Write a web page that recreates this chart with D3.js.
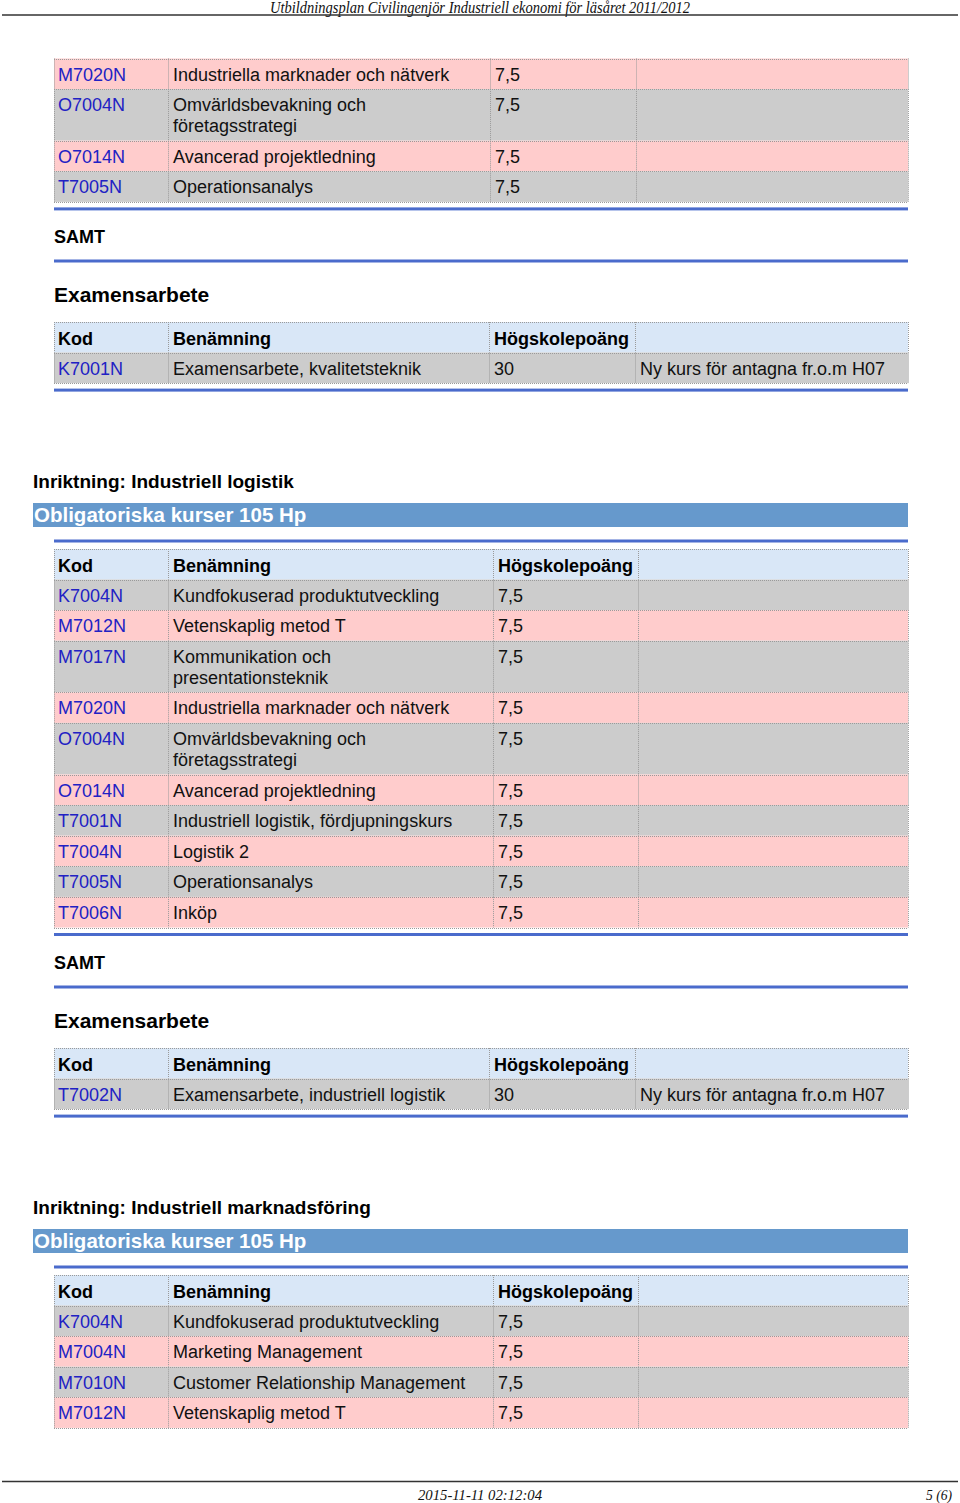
<!DOCTYPE html>
<html lang="sv">
<head>
<meta charset="UTF-8">
<title>Utbildningsplan - sida 5</title>
<style>
  body { margin: 0; background: #fff; }
  svg { display: block; }
  .cell-text { font-family: 'Liberation Sans', Arial, Helvetica, sans-serif; font-size: 18px; fill: #111; }
  .code { fill: #2121c4; }
  .head { font-weight: bold; fill: #000; }
  .title { font-family: 'Liberation Sans', Arial, Helvetica, sans-serif; font-weight: bold; }
  .grid { stroke: #9a9a9a; stroke-width: 1; stroke-dasharray: 1,1; fill: none; }
</style>
</head>
<body>
<script src="https://d3js.org/d3.v7.min.js"></script>
<script>
// ---- data ----
const pageTitle = "Utbildningsplan Civilingenjör Industriell ekonomi för läsåret 2011/2012";
const footerDate = "2015-11-11 02:12:04";
const footerPage = "5 (6)";
const headerLabels = ["Kod", "Benämning", "Högskolepoäng", ""];

// fortsättning från föregående sida
const contCodes = ["M7020N", "O7004N", "O7014N", "T7005N"];
const contNames = ["Industriella marknader och nätverk", "Omvärldsbevakning och\nföretagsstrategi", "Avancerad projektledning", "Operationsanalys"];
const contPoints = ["7,5", "7,5", "7,5", "7,5"];

const exam1Codes = ["K7001N"];
const exam1Names = ["Examensarbete, kvalitetsteknik"];
const exam1Points = ["30"];
const exam1Notes = ["Ny kurs för antagna fr.o.m H07"];

const logTitle = "Inriktning: Industriell logistik";
const logCodes = ["K7004N", "M7012N", "M7017N", "M7020N", "O7004N", "O7014N", "T7001N", "T7004N", "T7005N", "T7006N"];
const logNames = ["Kundfokuserad produktutveckling", "Vetenskaplig metod T", "Kommunikation och\npresentationsteknik",
  "Industriella marknader och nätverk", "Omvärldsbevakning och\nföretagsstrategi", "Avancerad projektledning",
  "Industriell logistik, fördjupningskurs", "Logistik 2", "Operationsanalys", "Inköp"];
const logPoints = ["7,5", "7,5", "7,5", "7,5", "7,5", "7,5", "7,5", "7,5", "7,5", "7,5"];

const exam2Codes = ["T7002N"];
const exam2Names = ["Examensarbete, industriell logistik"];
const exam2Points = ["30"];
const exam2Notes = ["Ny kurs för antagna fr.o.m H07"];

const markTitle = "Inriktning: Industriell marknadsföring";
const markCodes = ["K7004N", "M7004N", "M7010N", "M7012N"];
const markNames = ["Kundfokuserad produktutveckling", "Marketing Management", "Customer Relationship Management", "Vetenskaplig metod T"];
const markPoints = ["7,5", "7,5", "7,5", "7,5"];

const obligLabel = "Obligatoriska kurser 105 Hp";
const samtLabel = "SAMT";
const examLabel = "Examensarbete";

// ---- layout ----
const width = 960, height = 1503;
const SERIF = "'Liberation Serif', 'DejaVu Serif', serif";
const BLUE = "#4a6bcc";
const BAR = "#6699cc";
const fillScale = d3.scaleOrdinal().domain(["head", "gray", "pink"]).range(["#d9e7f7", "#cccccc", "#ffcccc"]);
const rowH = 30.6, lineH = 21, headH = 30.5;

const svg = d3.select("body").append("svg").attr("width", width).attr("height", height);

// sidhuvud (smal kursiv antikva)
svg.append("text").attr("x", 480).attr("y", 12.5).attr("text-anchor", "middle")
  .attr("font-family", SERIF).attr("font-style", "italic").attr("font-size", 16)
  .attr("textLength", 420).attr("lengthAdjust", "spacingAndGlyphs").attr("fill", "#111")
  .text(pageTitle);
svg.append("line").attr("x1", 2).attr("x2", 958).attr("y1", 15).attr("y2", 15)
  .attr("stroke", "#333").attr("stroke-width", 1.6);

// sidfot
svg.append("line").attr("x1", 2).attr("x2", 958).attr("y1", 1481.5).attr("y2", 1481.5)
  .attr("stroke", "#333").attr("stroke-width", 1.4);
svg.append("text").attr("x", 480).attr("y", 1500).attr("text-anchor", "middle")
  .attr("font-family", SERIF).attr("font-style", "italic").attr("font-size", 15)
  .attr("textLength", 124).attr("lengthAdjust", "spacingAndGlyphs").attr("fill", "#111")
  .text(footerDate);
svg.append("text").attr("x", 952).attr("y", 1500).attr("text-anchor", "end")
  .attr("font-family", SERIF).attr("font-style", "italic").attr("font-size", 15)
  .attr("textLength", 26).attr("lengthAdjust", "spacingAndGlyphs").attr("fill", "#111")
  .text(footerPage);

function blueRule(y) {
  svg.append("rect").attr("x", 54).attr("y", y - 1.5).attr("width", 854).attr("height", 3).attr("fill", BLUE);
}

function titleText(x, y, size, txt, color) {
  svg.append("text").attr("class", "title").attr("x", x).attr("y", y)
    .attr("font-size", size).style("fill", color || "#000").text(txt);
}

function obligBar(top) {
  svg.append("rect").attr("x", 33).attr("y", top).attr("width", 875).attr("height", 24).attr("fill", BAR);
  titleText(34, top + 19, 20.5, obligLabel, "#ffffff");
}

// tabell: rows = [[kod, namn, hp, not], ...]
function drawTable(top, cols, withHeader, rows, startFill) {
  const g = svg.append("g");
  const all = [];
  let y = top;
  if (withHeader) {
    all.push({ cells: headerLabels, y: y, h: headH, fill: "head", head: true });
    y += headH;
  }
  const alt = startFill === "gray" ? ["gray", "pink"] : ["pink", "gray"];
  rows.forEach((r, i) => {
    const lines = d3.max(r, c => String(c).split("\n").length);
    const h = rowH + (lines - 1) * lineH;
    all.push({ cells: r, y: y, h: h, fill: alt[i % 2], head: false });
    y += h;
  });
  const x = d3.scaleOrdinal().domain(d3.range(cols.length)).range(cols);

  const rg = g.selectAll("g.row").data(all).enter().append("g").attr("class", "row");
  rg.append("rect")
    .attr("x", cols[0]).attr("y", d => d.y)
    .attr("width", cols[cols.length - 1] - cols[0]).attr("height", d => d.h)
    .attr("fill", d => fillScale(d.fill));
  rg.append("line").attr("class", "grid")
    .attr("x1", cols[0]).attr("x2", cols[cols.length - 1])
    .attr("y1", d => Math.round(d.y) + 0.5).attr("y2", d => Math.round(d.y) + 0.5);
  rg.selectAll("line.v").data(d => cols.map(c => ({ c: c, d: d }))).enter().append("line")
    .attr("class", "grid")
    .attr("x1", e => e.c + 0.5).attr("x2", e => e.c + 0.5)
    .attr("y1", e => e.d.y).attr("y2", e => e.d.y + e.d.h);
  rg.selectAll("text").data(d => d.cells.map((c, i) => ({ t: String(c), i: i, d: d }))).enter()
    .append("text")
    .attr("class", e => "cell-text" + (e.d.head ? " head" : (e.i === 0 ? " code" : "")))
    .attr("x", e => x(e.i) + (e.i === 0 ? 4 : 5))
    .attr("y", e => e.d.y + (e.d.head ? 23 : 22))
    .each(function (e) {
      const t = d3.select(this);
      e.t.split("\n").forEach((ln, k) => {
        t.append("tspan").attr("x", x(e.i) + (e.i === 0 ? 4 : 5)).attr("dy", k === 0 ? 0 : lineH).text(ln);
      });
    });
  // underkant
  g.append("line").attr("class", "grid")
    .attr("x1", cols[0]).attr("x2", cols[cols.length - 1])
    .attr("y1", Math.round(y) + 0.5).attr("y2", Math.round(y) + 0.5);
  return y;
}

function zipRows(codes, names, pts, notes) {
  return codes.map((c, i) => [c, names[i], pts[i], notes ? notes[i] : ""]);
}

// --- fortsättningstabell ---
let bottom = drawTable(58.5, [54, 168, 490, 636, 908], false, zipRows(contCodes, contNames, contPoints), "pink");
blueRule(bottom + 7);
titleText(54, 243, 18, samtLabel);
blueRule(261);
titleText(54, 302, 21, examLabel);
bottom = drawTable(322, [54, 168, 489, 635, 908], true, zipRows(exam1Codes, exam1Names, exam1Points, exam1Notes), "gray");
blueRule(bottom + 7);

// --- Industriell logistik ---
titleText(33, 488, 19, logTitle);
obligBar(503);
blueRule(541);
bottom = drawTable(549, [54, 168, 493, 638, 908], true, zipRows(logCodes, logNames, logPoints), "gray");
blueRule(bottom + 7);
titleText(54, 969, 18, samtLabel);
blueRule(987);
titleText(54, 1028, 21, examLabel);
bottom = drawTable(1048, [54, 168, 489, 635, 908], true, zipRows(exam2Codes, exam2Names, exam2Points, exam2Notes), "gray");
blueRule(bottom + 7);

// --- Industriell marknadsföring ---
titleText(33, 1214, 19, markTitle);
obligBar(1229);
blueRule(1267);
drawTable(1275, [54, 168, 493, 638, 908], true, zipRows(markCodes, markNames, markPoints), "gray");
</script>
</body>
</html>
